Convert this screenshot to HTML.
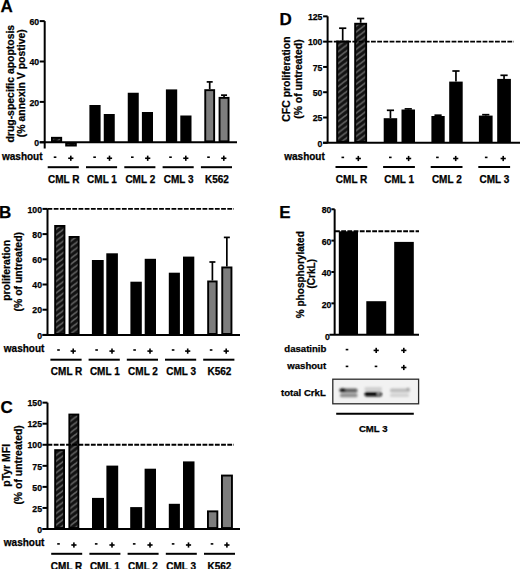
<!DOCTYPE html><html><head><meta charset="utf-8"><style>html,body{margin:0;padding:0;background:#fff;}svg{display:block;}</style></head><body>
<svg width="520" height="569" viewBox="0 0 520 569">
<defs><pattern id="hatch" patternUnits="userSpaceOnUse" width="7.5" height="5.8"><rect width="7.5" height="5.8" fill="#121212"/><path d="M-3.75,8.7 L11.25,-2.9 M3.75,8.7 L11.25,2.9 M-3.75,2.9 L3.75,-2.9" stroke="#606060" stroke-width="1.7"/></pattern></defs>
<rect width="520" height="569" fill="#fff"/>
<text x="0.6" y="12.3" font-size="17" text-anchor="start" font-family="Liberation Sans, sans-serif" font-weight="bold" stroke="#000" stroke-width="0.25" >A</text>
<rect x="51.95" y="137.8" width="9.25" height="3.55" fill="url(#hatch)" stroke="#000" stroke-width="1.9"/>
<rect x="66.15" y="143.25" width="9.7" height="2.3" fill="url(#hatch)" stroke="#000" stroke-width="1.9"/>
<rect x="89.4" y="105.0" width="11.2" height="37.3" fill="#000"/>
<rect x="103.75" y="114.0" width="11.0" height="28.3" fill="#000"/>
<rect x="127.75" y="92.75" width="11.0" height="49.55" fill="#000"/>
<rect x="141.9" y="112.0" width="11.1" height="30.3" fill="#000"/>
<rect x="165.9" y="89.4" width="11.3" height="52.9" fill="#000"/>
<rect x="180.3" y="115.5" width="11.2" height="26.8" fill="#000"/>
<rect x="205.25" y="90.15" width="8.9" height="51.2" fill="#7d7d7d" stroke="#000" stroke-width="1.9"/>
<line x1="209.7" y1="89.2" x2="209.7" y2="81.9" stroke="#000" stroke-width="1.7"/>
<line x1="206.7" y1="81.9" x2="212.7" y2="81.9" stroke="#000" stroke-width="1.7"/>
<rect x="219.55" y="97.85" width="9" height="43.5" fill="#7d7d7d" stroke="#000" stroke-width="1.9"/>
<line x1="224.05" y1="96.9" x2="224.05" y2="95.15" stroke="#000" stroke-width="1.7"/>
<line x1="221.05" y1="95.15" x2="227.05" y2="95.15" stroke="#000" stroke-width="1.7"/>
<line x1="44.7" y1="21.1" x2="44.7" y2="148.5" stroke="#000" stroke-width="2.0"/>
<line x1="39.7" y1="142.3" x2="44.7" y2="142.3" stroke="#000" stroke-width="2.0"/>
<text x="39.2" y="146.01" font-size="8.7" text-anchor="end" font-family="Liberation Sans, sans-serif" font-weight="bold" stroke="#000" stroke-width="0.25" >0</text>
<line x1="39.7" y1="101.9" x2="44.7" y2="101.9" stroke="#000" stroke-width="2.0"/>
<text x="39.2" y="105.61" font-size="8.7" text-anchor="end" font-family="Liberation Sans, sans-serif" font-weight="bold" stroke="#000" stroke-width="0.25" >20</text>
<line x1="39.7" y1="61.5" x2="44.7" y2="61.5" stroke="#000" stroke-width="2.0"/>
<text x="39.2" y="65.21" font-size="8.7" text-anchor="end" font-family="Liberation Sans, sans-serif" font-weight="bold" stroke="#000" stroke-width="0.25" >40</text>
<line x1="39.7" y1="21.1" x2="44.7" y2="21.1" stroke="#000" stroke-width="2.0"/>
<text x="39.2" y="24.81" font-size="8.7" text-anchor="end" font-family="Liberation Sans, sans-serif" font-weight="bold" stroke="#000" stroke-width="0.25" >60</text>
<line x1="39.7" y1="142.3" x2="237" y2="142.3" stroke="#000" stroke-width="2.0"/>
<text x="0" y="0" font-size="10.45" text-anchor="middle" font-family="Liberation Sans, sans-serif" font-weight="bold" stroke="#000" stroke-width="0.25" transform="translate(13.7,83.7) rotate(-90)" >drug-specific apoptosis</text>
<text x="0" y="0" font-size="10.45" text-anchor="middle" font-family="Liberation Sans, sans-serif" font-weight="bold" stroke="#000" stroke-width="0.25" transform="translate(24.5,83.2) rotate(-90)" >(% annexin V postive)</text>
<text x="2" y="159.6" font-size="10" text-anchor="start" font-family="Liberation Sans, sans-serif" font-weight="bold" stroke="#000" stroke-width="0.25" >washout</text>
<rect x="53.75" y="156.4" width="2.6" height="1.6" fill="#000"/>
<rect x="68.2" y="157.45" width="5.2" height="1.6" fill="#000"/>
<rect x="70.0" y="155.65" width="1.6" height="5.2" fill="#000"/>
<line x1="47.7" y1="167.2" x2="78.8" y2="167.2" stroke="#000" stroke-width="2"/>
<rect x="93.3" y="156.4" width="2.6" height="1.6" fill="#000"/>
<rect x="106.9" y="157.45" width="5.2" height="1.6" fill="#000"/>
<rect x="108.7" y="155.65" width="1.6" height="5.2" fill="#000"/>
<line x1="86.0" y1="167.2" x2="117.1" y2="167.2" stroke="#000" stroke-width="2"/>
<rect x="131.0" y="156.4" width="2.6" height="1.6" fill="#000"/>
<rect x="145.1" y="157.45" width="5.2" height="1.6" fill="#000"/>
<rect x="146.9" y="155.65" width="1.6" height="5.2" fill="#000"/>
<line x1="124.3" y1="167.2" x2="155.4" y2="167.2" stroke="#000" stroke-width="2"/>
<rect x="169.2" y="156.4" width="2.6" height="1.6" fill="#000"/>
<rect x="183.2" y="157.45" width="5.2" height="1.6" fill="#000"/>
<rect x="185.0" y="155.65" width="1.6" height="5.2" fill="#000"/>
<line x1="162.6" y1="167.2" x2="193.7" y2="167.2" stroke="#000" stroke-width="2"/>
<rect x="207.2" y="156.4" width="2.6" height="1.6" fill="#000"/>
<rect x="221.2" y="157.45" width="5.2" height="1.6" fill="#000"/>
<rect x="223.0" y="155.65" width="1.6" height="5.2" fill="#000"/>
<line x1="200.9" y1="167.2" x2="232.0" y2="167.2" stroke="#000" stroke-width="2"/>
<text x="63.7" y="182.7" font-size="10" text-anchor="middle" font-family="Liberation Sans, sans-serif" font-weight="bold" stroke="#000" stroke-width="0.25" >CML R</text>
<text x="102.0" y="182.7" font-size="10" text-anchor="middle" font-family="Liberation Sans, sans-serif" font-weight="bold" stroke="#000" stroke-width="0.25" >CML 1</text>
<text x="140.3" y="182.7" font-size="10" text-anchor="middle" font-family="Liberation Sans, sans-serif" font-weight="bold" stroke="#000" stroke-width="0.25" >CML 2</text>
<text x="178.6" y="182.7" font-size="10" text-anchor="middle" font-family="Liberation Sans, sans-serif" font-weight="bold" stroke="#000" stroke-width="0.25" >CML 3</text>
<text x="216.9" y="182.7" font-size="10" text-anchor="middle" font-family="Liberation Sans, sans-serif" font-weight="bold" stroke="#000" stroke-width="0.25" >K562</text>
<text x="-1.0" y="218.3" font-size="17" text-anchor="start" font-family="Liberation Sans, sans-serif" font-weight="bold" stroke="#000" stroke-width="0.25" >B</text>
<rect x="55.15" y="225.95" width="9.3" height="108" fill="url(#hatch)" stroke="#000" stroke-width="1.9"/>
<rect x="69.55" y="236.95" width="9.1" height="97" fill="url(#hatch)" stroke="#000" stroke-width="1.9"/>
<rect x="91.9" y="260.0" width="11.8" height="74.9" fill="#000"/>
<rect x="106.3" y="253.3" width="11.6" height="81.6" fill="#000"/>
<rect x="130.4" y="281.7" width="11.4" height="53.2" fill="#000"/>
<rect x="144.7" y="258.8" width="11.3" height="76.1" fill="#000"/>
<rect x="168.8" y="272.7" width="11.1" height="62.2" fill="#000"/>
<rect x="183.0" y="256.6" width="11.3" height="78.3" fill="#000"/>
<rect x="208.15" y="281.45" width="8.5" height="52.5" fill="#7d7d7d" stroke="#000" stroke-width="1.9"/>
<line x1="212.4" y1="280.5" x2="212.4" y2="262.0" stroke="#000" stroke-width="1.7"/>
<line x1="209.4" y1="262.0" x2="215.4" y2="262.0" stroke="#000" stroke-width="1.7"/>
<rect x="222.25" y="267.45" width="9.2" height="66.5" fill="#7d7d7d" stroke="#000" stroke-width="1.9"/>
<line x1="226.85" y1="266.5" x2="226.85" y2="237.4" stroke="#000" stroke-width="1.7"/>
<line x1="223.85" y1="237.4" x2="229.85" y2="237.4" stroke="#000" stroke-width="1.7"/>
<line x1="47.5" y1="208.9" x2="47.5" y2="334.9" stroke="#000" stroke-width="2.0"/>
<line x1="42.5" y1="334.9" x2="47.5" y2="334.9" stroke="#000" stroke-width="2.0"/>
<text x="42.0" y="338.61" font-size="8.7" text-anchor="end" font-family="Liberation Sans, sans-serif" font-weight="bold" stroke="#000" stroke-width="0.25" >0</text>
<line x1="42.5" y1="309.7" x2="47.5" y2="309.7" stroke="#000" stroke-width="2.0"/>
<text x="42.0" y="313.41" font-size="8.7" text-anchor="end" font-family="Liberation Sans, sans-serif" font-weight="bold" stroke="#000" stroke-width="0.25" >20</text>
<line x1="42.5" y1="284.5" x2="47.5" y2="284.5" stroke="#000" stroke-width="2.0"/>
<text x="42.0" y="288.21" font-size="8.7" text-anchor="end" font-family="Liberation Sans, sans-serif" font-weight="bold" stroke="#000" stroke-width="0.25" >40</text>
<line x1="42.5" y1="259.3" x2="47.5" y2="259.3" stroke="#000" stroke-width="2.0"/>
<text x="42.0" y="263.01" font-size="8.7" text-anchor="end" font-family="Liberation Sans, sans-serif" font-weight="bold" stroke="#000" stroke-width="0.25" >60</text>
<line x1="42.5" y1="234.1" x2="47.5" y2="234.1" stroke="#000" stroke-width="2.0"/>
<text x="42.0" y="237.81" font-size="8.7" text-anchor="end" font-family="Liberation Sans, sans-serif" font-weight="bold" stroke="#000" stroke-width="0.25" >80</text>
<line x1="42.5" y1="208.9" x2="47.5" y2="208.9" stroke="#000" stroke-width="2.0"/>
<text x="42.0" y="212.61" font-size="8.7" text-anchor="end" font-family="Liberation Sans, sans-serif" font-weight="bold" stroke="#000" stroke-width="0.25" >100</text>
<line x1="47.5" y1="208.9" x2="234" y2="208.9" stroke="#000" stroke-width="1.9" stroke-dasharray="4.8,1.4"/>
<line x1="42.5" y1="334.9" x2="240" y2="334.9" stroke="#000" stroke-width="2.0"/>
<text x="0" y="0" font-size="10.45" text-anchor="middle" font-family="Liberation Sans, sans-serif" font-weight="bold" stroke="#000" stroke-width="0.25" transform="translate(10.3,270.4) rotate(-90)" >proliferation</text>
<text x="0" y="0" font-size="10.45" text-anchor="middle" font-family="Liberation Sans, sans-serif" font-weight="bold" stroke="#000" stroke-width="0.25" transform="translate(22.3,271.7) rotate(-90)" >(% of untreated)</text>
<text x="3.8" y="351.8" font-size="10" text-anchor="start" font-family="Liberation Sans, sans-serif" font-weight="bold" stroke="#000" stroke-width="0.25" >washout</text>
<rect x="57.2" y="349.2" width="2.6" height="1.6" fill="#000"/>
<rect x="70.6" y="350.3" width="5.2" height="1.6" fill="#000"/>
<rect x="72.4" y="348.5" width="1.6" height="5.2" fill="#000"/>
<line x1="50.4" y1="359.7" x2="81.6" y2="359.7" stroke="#000" stroke-width="2"/>
<rect x="95.3" y="349.2" width="2.6" height="1.6" fill="#000"/>
<rect x="109.4" y="350.3" width="5.2" height="1.6" fill="#000"/>
<rect x="111.2" y="348.5" width="1.6" height="5.2" fill="#000"/>
<line x1="88.6" y1="359.7" x2="119.8" y2="359.7" stroke="#000" stroke-width="2"/>
<rect x="133.3" y="349.2" width="2.6" height="1.6" fill="#000"/>
<rect x="147.4" y="350.3" width="5.2" height="1.6" fill="#000"/>
<rect x="149.2" y="348.5" width="1.6" height="5.2" fill="#000"/>
<line x1="126.8" y1="359.7" x2="158" y2="359.7" stroke="#000" stroke-width="2"/>
<rect x="171.8" y="349.2" width="2.6" height="1.6" fill="#000"/>
<rect x="185.1" y="350.3" width="5.2" height="1.6" fill="#000"/>
<rect x="186.9" y="348.5" width="1.6" height="5.2" fill="#000"/>
<line x1="165.0" y1="359.7" x2="196.2" y2="359.7" stroke="#000" stroke-width="2"/>
<rect x="209.8" y="349.2" width="2.6" height="1.6" fill="#000"/>
<rect x="223.6" y="350.3" width="5.2" height="1.6" fill="#000"/>
<rect x="225.4" y="348.5" width="1.6" height="5.2" fill="#000"/>
<line x1="203.2" y1="359.7" x2="234.4" y2="359.7" stroke="#000" stroke-width="2"/>
<text x="66.6" y="375.0" font-size="10" text-anchor="middle" font-family="Liberation Sans, sans-serif" font-weight="bold" stroke="#000" stroke-width="0.25" >CML R</text>
<text x="104.8" y="375.0" font-size="10" text-anchor="middle" font-family="Liberation Sans, sans-serif" font-weight="bold" stroke="#000" stroke-width="0.25" >CML 1</text>
<text x="143" y="375.0" font-size="10" text-anchor="middle" font-family="Liberation Sans, sans-serif" font-weight="bold" stroke="#000" stroke-width="0.25" >CML 2</text>
<text x="181.2" y="375.0" font-size="10" text-anchor="middle" font-family="Liberation Sans, sans-serif" font-weight="bold" stroke="#000" stroke-width="0.25" >CML 3</text>
<text x="219.4" y="375.0" font-size="10" text-anchor="middle" font-family="Liberation Sans, sans-serif" font-weight="bold" stroke="#000" stroke-width="0.25" >K562</text>
<text x="0.4" y="412.6" font-size="17" text-anchor="start" font-family="Liberation Sans, sans-serif" font-weight="bold" stroke="#000" stroke-width="0.25" >C</text>
<rect x="55.15" y="450.15" width="8.9" height="77.9" fill="url(#hatch)" stroke="#000" stroke-width="1.9"/>
<rect x="69.35" y="414.55" width="9" height="113.5" fill="url(#hatch)" stroke="#000" stroke-width="1.9"/>
<rect x="92.0" y="497.9" width="12.0" height="31.1" fill="#000"/>
<rect x="106.4" y="465.6" width="11.8" height="63.4" fill="#000"/>
<rect x="130.2" y="507.1" width="12.0" height="21.9" fill="#000"/>
<rect x="144.6" y="468.7" width="11.4" height="60.3" fill="#000"/>
<rect x="168.8" y="503.8" width="11.1" height="25.2" fill="#000"/>
<rect x="183.0" y="461.4" width="11.5" height="67.6" fill="#000"/>
<rect x="207.95" y="511.35" width="9.4" height="16.7" fill="#7d7d7d" stroke="#000" stroke-width="1.9"/>
<rect x="221.95" y="475.55" width="10" height="52.5" fill="#7d7d7d" stroke="#000" stroke-width="1.9"/>
<line x1="47.5" y1="402.65" x2="47.5" y2="529.0" stroke="#000" stroke-width="2.0"/>
<line x1="42.5" y1="529.0" x2="47.5" y2="529.0" stroke="#000" stroke-width="2.0"/>
<text x="42.0" y="532.71" font-size="8.7" text-anchor="end" font-family="Liberation Sans, sans-serif" font-weight="bold" stroke="#000" stroke-width="0.25" >0</text>
<line x1="42.5" y1="507.94" x2="47.5" y2="507.94" stroke="#000" stroke-width="2.0"/>
<text x="42.0" y="511.66" font-size="8.7" text-anchor="end" font-family="Liberation Sans, sans-serif" font-weight="bold" stroke="#000" stroke-width="0.25" >25</text>
<line x1="42.5" y1="486.88" x2="47.5" y2="486.88" stroke="#000" stroke-width="2.0"/>
<text x="42.0" y="490.6" font-size="8.7" text-anchor="end" font-family="Liberation Sans, sans-serif" font-weight="bold" stroke="#000" stroke-width="0.25" >50</text>
<line x1="42.5" y1="465.83" x2="47.5" y2="465.83" stroke="#000" stroke-width="2.0"/>
<text x="42.0" y="469.54" font-size="8.7" text-anchor="end" font-family="Liberation Sans, sans-serif" font-weight="bold" stroke="#000" stroke-width="0.25" >75</text>
<line x1="42.5" y1="444.77" x2="47.5" y2="444.77" stroke="#000" stroke-width="2.0"/>
<text x="42.0" y="448.48" font-size="8.7" text-anchor="end" font-family="Liberation Sans, sans-serif" font-weight="bold" stroke="#000" stroke-width="0.25" >100</text>
<line x1="42.5" y1="423.71" x2="47.5" y2="423.71" stroke="#000" stroke-width="2.0"/>
<text x="42.0" y="427.43" font-size="8.7" text-anchor="end" font-family="Liberation Sans, sans-serif" font-weight="bold" stroke="#000" stroke-width="0.25" >125</text>
<line x1="42.5" y1="402.65" x2="47.5" y2="402.65" stroke="#000" stroke-width="2.0"/>
<text x="42.0" y="406.37" font-size="8.7" text-anchor="end" font-family="Liberation Sans, sans-serif" font-weight="bold" stroke="#000" stroke-width="0.25" >150</text>
<line x1="47.5" y1="444.8" x2="234" y2="444.8" stroke="#000" stroke-width="1.9" stroke-dasharray="4.8,1.4"/>
<line x1="42.5" y1="529.0" x2="240" y2="529.0" stroke="#000" stroke-width="2.0"/>
<text x="0" y="0" font-size="10.45" text-anchor="middle" font-family="Liberation Sans, sans-serif" font-weight="bold" stroke="#000" stroke-width="0.25" transform="translate(10.4,465.3) rotate(-90)" >pTyr MFI</text>
<text x="0" y="0" font-size="10.45" text-anchor="middle" font-family="Liberation Sans, sans-serif" font-weight="bold" stroke="#000" stroke-width="0.25" transform="translate(22.3,464.9) rotate(-90)" >(% of untreated)</text>
<text x="3.8" y="546.3" font-size="10" text-anchor="start" font-family="Liberation Sans, sans-serif" font-weight="bold" stroke="#000" stroke-width="0.25" >washout</text>
<rect x="57.2" y="543.1" width="2.6" height="1.6" fill="#000"/>
<rect x="71.3" y="544.2" width="5.2" height="1.6" fill="#000"/>
<rect x="73.1" y="542.4" width="1.6" height="5.2" fill="#000"/>
<line x1="51.2" y1="553.8" x2="82.2" y2="553.8" stroke="#000" stroke-width="2"/>
<rect x="94.9" y="543.1" width="2.6" height="1.6" fill="#000"/>
<rect x="109.4" y="544.2" width="5.2" height="1.6" fill="#000"/>
<rect x="111.2" y="542.4" width="1.6" height="5.2" fill="#000"/>
<line x1="89.4" y1="553.8" x2="120.4" y2="553.8" stroke="#000" stroke-width="2"/>
<rect x="132.9" y="543.1" width="2.6" height="1.6" fill="#000"/>
<rect x="147.4" y="544.2" width="5.2" height="1.6" fill="#000"/>
<rect x="149.2" y="542.4" width="1.6" height="5.2" fill="#000"/>
<line x1="127.6" y1="553.8" x2="158.6" y2="553.8" stroke="#000" stroke-width="2"/>
<rect x="171.8" y="543.1" width="2.6" height="1.6" fill="#000"/>
<rect x="185.9" y="544.2" width="5.2" height="1.6" fill="#000"/>
<rect x="187.7" y="542.4" width="1.6" height="5.2" fill="#000"/>
<line x1="165.8" y1="553.8" x2="196.8" y2="553.8" stroke="#000" stroke-width="2"/>
<rect x="210.7" y="543.1" width="2.6" height="1.6" fill="#000"/>
<rect x="224.3" y="544.2" width="5.2" height="1.6" fill="#000"/>
<rect x="226.1" y="542.4" width="1.6" height="5.2" fill="#000"/>
<line x1="204.0" y1="553.8" x2="235.0" y2="553.8" stroke="#000" stroke-width="2"/>
<text x="66.6" y="569.5" font-size="10" text-anchor="middle" font-family="Liberation Sans, sans-serif" font-weight="bold" stroke="#000" stroke-width="0.25" >CML R</text>
<text x="104.8" y="569.5" font-size="10" text-anchor="middle" font-family="Liberation Sans, sans-serif" font-weight="bold" stroke="#000" stroke-width="0.25" >CML 1</text>
<text x="143" y="569.5" font-size="10" text-anchor="middle" font-family="Liberation Sans, sans-serif" font-weight="bold" stroke="#000" stroke-width="0.25" >CML 2</text>
<text x="181.2" y="569.5" font-size="10" text-anchor="middle" font-family="Liberation Sans, sans-serif" font-weight="bold" stroke="#000" stroke-width="0.25" >CML 3</text>
<text x="219.4" y="569.5" font-size="10" text-anchor="middle" font-family="Liberation Sans, sans-serif" font-weight="bold" stroke="#000" stroke-width="0.25" >K562</text>
<text x="279.6" y="25.3" font-size="17" text-anchor="start" font-family="Liberation Sans, sans-serif" font-weight="bold" stroke="#000" stroke-width="0.25" >D</text>
<rect x="337.15" y="41.45" width="11.1" height="100.4" fill="url(#hatch)" stroke="#000" stroke-width="1.9"/>
<line x1="342.7" y1="40.5" x2="342.7" y2="28.2" stroke="#000" stroke-width="1.7"/>
<line x1="339.1" y1="28.2" x2="346.3" y2="28.2" stroke="#000" stroke-width="1.7"/>
<rect x="355.15" y="23.75" width="11" height="118.1" fill="url(#hatch)" stroke="#000" stroke-width="1.9"/>
<line x1="360.65" y1="22.8" x2="360.65" y2="18.5" stroke="#000" stroke-width="1.7"/>
<line x1="357.05" y1="18.5" x2="364.25" y2="18.5" stroke="#000" stroke-width="1.7"/>
<rect x="383.7" y="118.2" width="13.5" height="24.6" fill="#000"/>
<line x1="390.45" y1="118.2" x2="390.45" y2="110.3" stroke="#000" stroke-width="1.7"/>
<line x1="386.85" y1="110.3" x2="394.05" y2="110.3" stroke="#000" stroke-width="1.7"/>
<rect x="401.5" y="109.5" width="13.5" height="33.3" fill="#000"/>
<line x1="408.25" y1="109.5" x2="408.25" y2="108.9" stroke="#000" stroke-width="1.7"/>
<line x1="404.65" y1="108.9" x2="411.85" y2="108.9" stroke="#000" stroke-width="1.7"/>
<rect x="431.4" y="116.0" width="13.3" height="26.8" fill="#000"/>
<line x1="438.05" y1="116.0" x2="438.05" y2="115.2" stroke="#000" stroke-width="1.7"/>
<line x1="434.45" y1="115.2" x2="441.65" y2="115.2" stroke="#000" stroke-width="1.7"/>
<rect x="449.2" y="81.6" width="13.5" height="61.2" fill="#000"/>
<line x1="455.95" y1="81.6" x2="455.95" y2="71.0" stroke="#000" stroke-width="1.7"/>
<line x1="452.35" y1="71.0" x2="459.55" y2="71.0" stroke="#000" stroke-width="1.7"/>
<rect x="478.9" y="115.6" width="13.7" height="27.2" fill="#000"/>
<line x1="485.75" y1="115.6" x2="485.75" y2="114.7" stroke="#000" stroke-width="1.7"/>
<line x1="482.15" y1="114.7" x2="489.35" y2="114.7" stroke="#000" stroke-width="1.7"/>
<rect x="497.2" y="78.9" width="13.7" height="63.9" fill="#000"/>
<line x1="504.05" y1="78.9" x2="504.05" y2="75.3" stroke="#000" stroke-width="1.7"/>
<line x1="500.45" y1="75.3" x2="507.65" y2="75.3" stroke="#000" stroke-width="1.7"/>
<line x1="327.6" y1="16.35" x2="327.6" y2="142.8" stroke="#000" stroke-width="2.0"/>
<line x1="323.1" y1="142.8" x2="327.6" y2="142.8" stroke="#000" stroke-width="2.0"/>
<text x="322.4" y="146.51" font-size="8.7" text-anchor="end" font-family="Liberation Sans, sans-serif" font-weight="bold" stroke="#000" stroke-width="0.25" >0</text>
<line x1="323.1" y1="117.51" x2="327.6" y2="117.51" stroke="#000" stroke-width="2.0"/>
<text x="322.4" y="121.22" font-size="8.7" text-anchor="end" font-family="Liberation Sans, sans-serif" font-weight="bold" stroke="#000" stroke-width="0.25" >25</text>
<line x1="323.1" y1="92.22" x2="327.6" y2="92.22" stroke="#000" stroke-width="2.0"/>
<text x="322.4" y="95.93" font-size="8.7" text-anchor="end" font-family="Liberation Sans, sans-serif" font-weight="bold" stroke="#000" stroke-width="0.25" >50</text>
<line x1="323.1" y1="66.93" x2="327.6" y2="66.93" stroke="#000" stroke-width="2.0"/>
<text x="322.4" y="70.64" font-size="8.7" text-anchor="end" font-family="Liberation Sans, sans-serif" font-weight="bold" stroke="#000" stroke-width="0.25" >75</text>
<line x1="323.1" y1="41.64" x2="327.6" y2="41.64" stroke="#000" stroke-width="2.0"/>
<text x="322.4" y="45.35" font-size="8.7" text-anchor="end" font-family="Liberation Sans, sans-serif" font-weight="bold" stroke="#000" stroke-width="0.25" >100</text>
<line x1="323.1" y1="16.35" x2="327.6" y2="16.35" stroke="#000" stroke-width="2.0"/>
<text x="322.4" y="20.06" font-size="8.7" text-anchor="end" font-family="Liberation Sans, sans-serif" font-weight="bold" stroke="#000" stroke-width="0.25" >125</text>
<line x1="327.6" y1="41.6" x2="514" y2="41.6" stroke="#000" stroke-width="1.9" stroke-dasharray="4.8,1.4"/>
<line x1="323.1" y1="142.8" x2="520" y2="142.8" stroke="#000" stroke-width="2.0"/>
<text x="0" y="0" font-size="10.45" text-anchor="middle" font-family="Liberation Sans, sans-serif" font-weight="bold" stroke="#000" stroke-width="0.25" transform="translate(289.6,79.1) rotate(-90)" >CFC proliferation</text>
<text x="0" y="0" font-size="10.45" text-anchor="middle" font-family="Liberation Sans, sans-serif" font-weight="bold" stroke="#000" stroke-width="0.25" transform="translate(301.7,79.1) rotate(-90)" >(% of untreated)</text>
<text x="324.8" y="159.6" font-size="10" text-anchor="end" font-family="Liberation Sans, sans-serif" font-weight="bold" stroke="#000" stroke-width="0.25" >washout</text>
<rect x="341.5" y="156.6" width="2.6" height="1.6" fill="#000"/>
<rect x="355.7" y="157.7" width="5.2" height="1.6" fill="#000"/>
<rect x="357.5" y="155.9" width="1.6" height="5.2" fill="#000"/>
<line x1="335.5" y1="167.0" x2="367.3" y2="167.0" stroke="#000" stroke-width="2"/>
<rect x="389.0" y="156.6" width="2.6" height="1.6" fill="#000"/>
<rect x="406.0" y="157.7" width="5.2" height="1.6" fill="#000"/>
<rect x="407.8" y="155.9" width="1.6" height="5.2" fill="#000"/>
<line x1="383.1" y1="167.0" x2="414.9" y2="167.0" stroke="#000" stroke-width="2"/>
<rect x="436.1" y="156.6" width="2.6" height="1.6" fill="#000"/>
<rect x="453.1" y="157.7" width="5.2" height="1.6" fill="#000"/>
<rect x="454.9" y="155.9" width="1.6" height="5.2" fill="#000"/>
<line x1="430.7" y1="167.0" x2="462.5" y2="167.0" stroke="#000" stroke-width="2"/>
<rect x="484.9" y="156.6" width="2.6" height="1.6" fill="#000"/>
<rect x="500.6" y="157.7" width="5.2" height="1.6" fill="#000"/>
<rect x="502.4" y="155.9" width="1.6" height="5.2" fill="#000"/>
<line x1="478.3" y1="167.0" x2="510.1" y2="167.0" stroke="#000" stroke-width="2"/>
<text x="351.6" y="182.8" font-size="10" text-anchor="middle" font-family="Liberation Sans, sans-serif" font-weight="bold" stroke="#000" stroke-width="0.25" >CML R</text>
<text x="399.2" y="182.8" font-size="10" text-anchor="middle" font-family="Liberation Sans, sans-serif" font-weight="bold" stroke="#000" stroke-width="0.25" >CML 1</text>
<text x="446.8" y="182.8" font-size="10" text-anchor="middle" font-family="Liberation Sans, sans-serif" font-weight="bold" stroke="#000" stroke-width="0.25" >CML 2</text>
<text x="494.4" y="182.8" font-size="10" text-anchor="middle" font-family="Liberation Sans, sans-serif" font-weight="bold" stroke="#000" stroke-width="0.25" >CML 3</text>
<text x="279.2" y="218.4" font-size="17" text-anchor="start" font-family="Liberation Sans, sans-serif" font-weight="bold" stroke="#000" stroke-width="0.25" >E</text>
<line x1="334.65" y1="209.25" x2="334.65" y2="334.7" stroke="#000" stroke-width="2.0"/>
<line x1="331.4" y1="303.34" x2="334.65" y2="303.34" stroke="#000" stroke-width="2.0"/>
<text x="331.4" y="307.55" font-size="8.7" text-anchor="end" font-family="Liberation Sans, sans-serif" font-weight="bold" stroke="#000" stroke-width="0.25" >20</text>
<line x1="331.4" y1="271.98" x2="334.65" y2="271.98" stroke="#000" stroke-width="2.0"/>
<text x="331.4" y="276.19" font-size="8.7" text-anchor="end" font-family="Liberation Sans, sans-serif" font-weight="bold" stroke="#000" stroke-width="0.25" >40</text>
<line x1="331.4" y1="240.62" x2="334.65" y2="240.62" stroke="#000" stroke-width="2.0"/>
<text x="331.4" y="244.83" font-size="8.7" text-anchor="end" font-family="Liberation Sans, sans-serif" font-weight="bold" stroke="#000" stroke-width="0.25" >60</text>
<line x1="331.4" y1="209.26" x2="334.65" y2="209.26" stroke="#000" stroke-width="2.0"/>
<text x="331.4" y="213.47" font-size="8.7" text-anchor="end" font-family="Liberation Sans, sans-serif" font-weight="bold" stroke="#000" stroke-width="0.25" >80</text>
<text x="329.9" y="339.51" font-size="8.7" text-anchor="end" font-family="Liberation Sans, sans-serif" font-weight="bold" stroke="#000" stroke-width="0.25" >0</text>
<line x1="335" y1="231.3" x2="419" y2="231.3" stroke="#000" stroke-width="1.9" stroke-dasharray="4.8,1.4"/>
<rect x="338.8" y="231.3" width="19.2" height="103.4" fill="#000"/>
<rect x="366.3" y="301.2" width="19.9" height="33.5" fill="#000"/>
<rect x="394.2" y="241.9" width="19.6" height="92.8" fill="#000"/>
<line x1="329.4" y1="334.7" x2="419" y2="334.7" stroke="#000" stroke-width="2.0"/>
<text x="0" y="0" font-size="10.05" text-anchor="middle" font-family="Liberation Sans, sans-serif" font-weight="bold" stroke="#000" stroke-width="0.25" transform="translate(303.6,274.7) rotate(-90)" >% phosphorylated</text>
<text x="0" y="0" font-size="10.05" text-anchor="middle" font-family="Liberation Sans, sans-serif" font-weight="bold" stroke="#000" stroke-width="0.25" transform="translate(315.2,273.8) rotate(-90)" >(CrkL)</text>
<text x="326.4" y="351.9" font-size="9.6" text-anchor="end" font-family="Liberation Sans, sans-serif" font-weight="bold" stroke="#000" stroke-width="0.25" >dasatinib</text>
<text x="326.2" y="369.0" font-size="9.6" text-anchor="end" font-family="Liberation Sans, sans-serif" font-weight="bold" stroke="#000" stroke-width="0.25" >washout</text>
<text x="325.8" y="396.4" font-size="9.6" text-anchor="end" font-family="Liberation Sans, sans-serif" font-weight="bold" stroke="#000" stroke-width="0.25" >total CrkL</text>
<rect x="345.7" y="348.8" width="2.6" height="1.6" fill="#000"/>
<rect x="373.6" y="349.6" width="5.2" height="1.6" fill="#000"/>
<rect x="375.4" y="347.8" width="1.6" height="5.2" fill="#000"/>
<rect x="401.2" y="349.6" width="5.2" height="1.6" fill="#000"/>
<rect x="403.0" y="347.8" width="1.6" height="5.2" fill="#000"/>
<rect x="345.7" y="365.6" width="2.6" height="1.6" fill="#000"/>
<rect x="374.7" y="365.6" width="2.6" height="1.6" fill="#000"/>
<rect x="401.2" y="366.7" width="5.2" height="1.6" fill="#000"/>
<rect x="403.0" y="364.9" width="1.6" height="5.2" fill="#000"/>
<defs><filter id="blur1" x="-50%" y="-50%" width="200%" height="200%"><feGaussianBlur stdDeviation="0.9"/></filter></defs>
<rect x="332.8" y="379.2" width="85.8" height="24.6" fill="#f2f2f2" stroke="#2a2a2a" stroke-width="1.3"/>
<g filter="url(#blur1)">
<rect x="340" y="388.4" width="17.5" height="4.0" rx="1.5" fill="#606060"/>
<rect x="339.5" y="388.4" width="6" height="3.4" rx="1.5" fill="#111"/>
<rect x="340" y="393.4" width="17.5" height="3.8" rx="1.5" fill="#8c8c8c"/>
<rect x="364.5" y="387.0" width="17.5" height="4" rx="1.5" fill="#d0d0d0"/>
<rect x="364.5" y="391.8" width="17.5" height="4.6" rx="2" fill="#0a0a0a"/>
<ellipse cx="378.5" cy="393.6" rx="1.6" ry="1.2" fill="#c0c0c0"/>
<rect x="390" y="388.4" width="20" height="3.8" rx="1.5" fill="#bcbcbc"/>
<rect x="390" y="393.4" width="19" height="3.6" rx="1.5" fill="#d2d2d2"/>
<ellipse cx="408" cy="389" rx="1.5" ry="1.2" fill="#999"/>
</g>
<line x1="336.2" y1="413.8" x2="413.8" y2="413.8" stroke="#000" stroke-width="2"/>
<text x="373.2" y="431.8" font-size="9.6" text-anchor="middle" font-family="Liberation Sans, sans-serif" font-weight="bold" stroke="#000" stroke-width="0.25" >CML 3</text>
</svg></body></html>
